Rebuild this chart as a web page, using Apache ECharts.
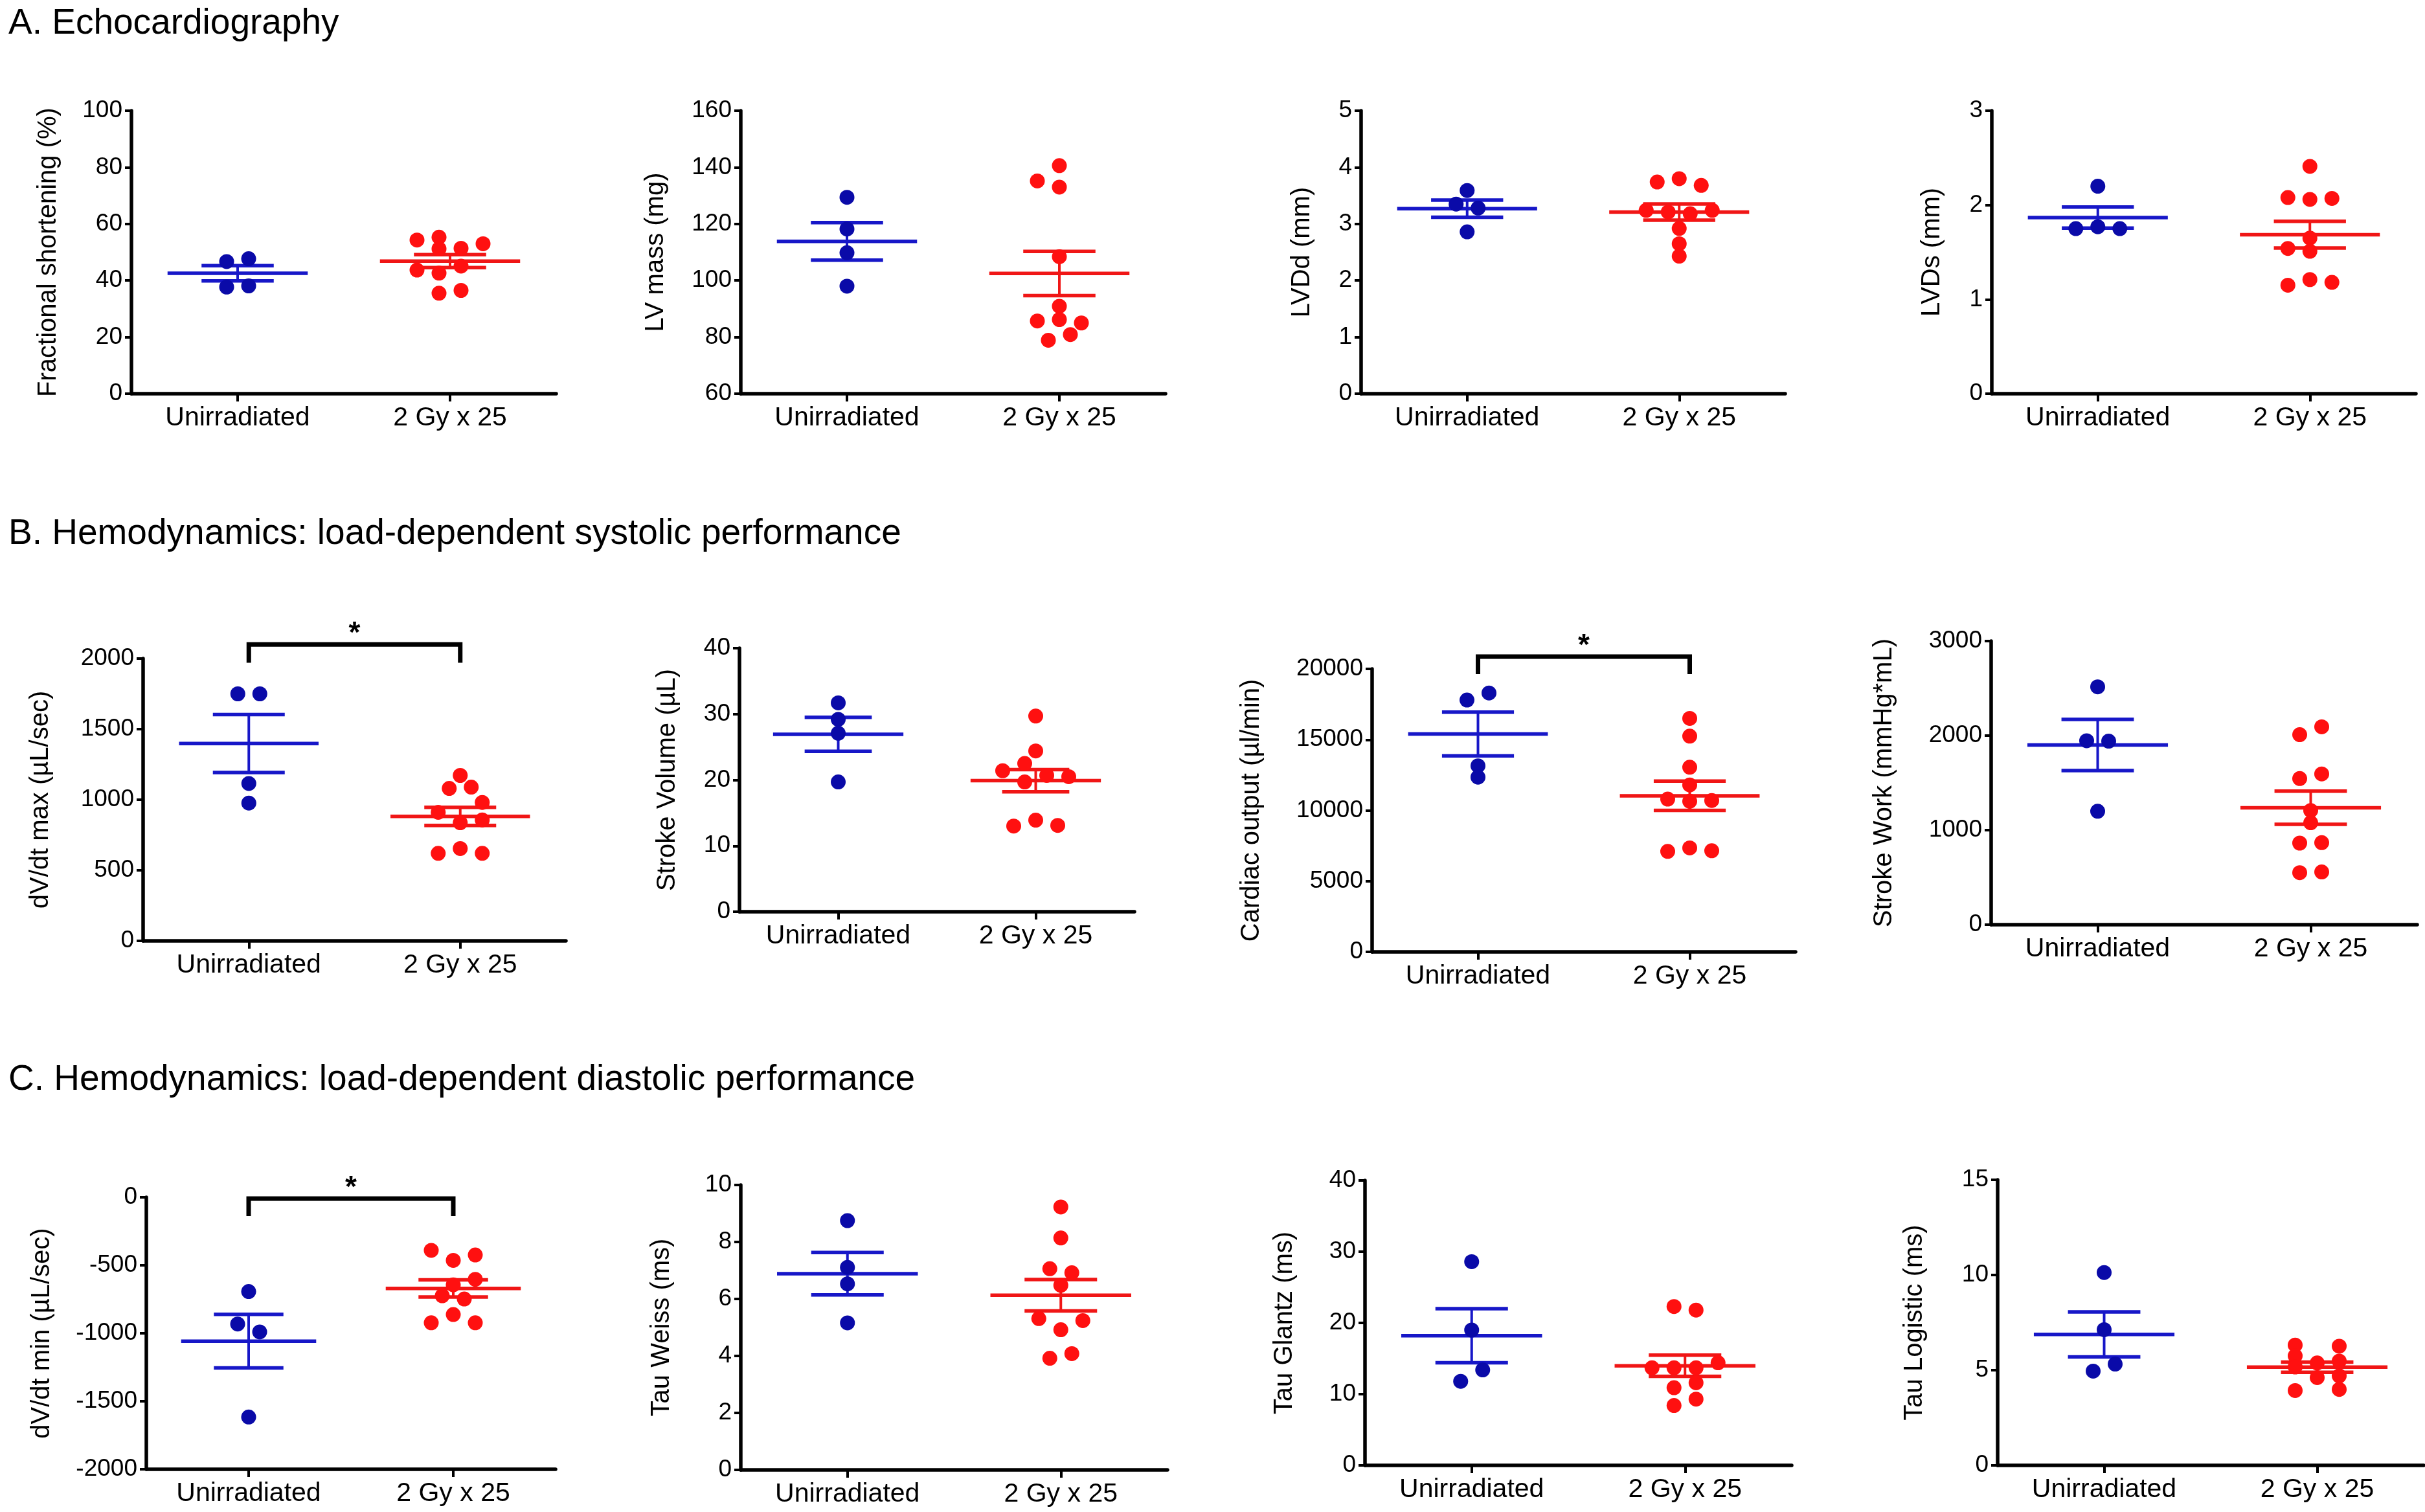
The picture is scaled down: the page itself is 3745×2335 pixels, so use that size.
<!DOCTYPE html>
<html><head><meta charset="utf-8">
<script src="https://cdn.jsdelivr.net/npm/echarts@6/dist/echarts.min.js"></script>
<style>html,body{margin:0;padding:0;background:#fff}#c{width:3745px;height:2335px}</style>
</head><body><div id="c"></div>
<script>
// ---------- categories ----------
const groups = ['Unirradiated', '2 Gy x 25'];

// ---------- A. Echocardiography ----------
const fsUnirr  = [46.7, 47.7, 37.7, 38.1];
const fsIrr    = [54.3, 55.3, 53.0, 51.2, 51.4, 43.7, 42.6, 45.1, 35.5, 36.5];
const lvmUnirr = [129.4, 118.2, 109.8, 98.0];
const lvmIrr   = [140.6, 135.2, 133.0, 108.4, 90.9, 85.7, 86.2, 85.0, 80.9, 78.9];
const lvddUnirr = [3.59, 3.35, 3.28, 2.86];
const lvddIrr   = [3.74, 3.80, 3.68, 3.24, 3.21, 3.18, 3.24, 2.92, 2.65, 2.43];
const lvdsUnirr = [2.20, 1.75, 1.77, 1.75];
const lvdsIrr   = [2.41, 2.08, 2.06, 2.07, 1.65, 1.54, 1.51, 1.15, 1.21, 1.18];

// ---------- B. systolic ----------
const dvMaxUnirr = [1750, 1750, 1115, 976];
const dvMaxIrr   = [1172, 1080, 1089, 981, 911, 837, 857, 620, 654, 620];
const svUnirr = [31.7, 29.2, 27.1, 19.7];
const svIrr   = [29.7, 24.4, 22.5, 21.4, 20.7, 20.5, 19.7, 13.9, 13.0, 13.1];
const coUnirr = [17800, 18300, 13150, 12350];
const coIrr   = [16500, 15250, 13050, 11800, 10800, 10650, 10700, 7100, 7350, 7150];
const swUnirr = [2516, 1946, 1941, 1200];
const swIrr   = [2093, 2010, 1595, 1546, 1208, 1078, 863, 868, 550, 558];

// ---------- C. diastolic ----------
const dvMinUnirr = [-693, -932, -990, -1616];
const dvMinIrr   = [-390, -464, -424, -603, -644, -724, -748, -862, -923, -923];
const twUnirr = [8.75, 7.11, 6.53, 5.16];
const twIrr   = [9.23, 8.14, 7.06, 6.92, 6.48, 5.31, 5.24, 4.92, 3.92, 4.08];
const tgUnirr = [28.6, 19.0, 13.4, 11.8];
const tgIrr   = [22.3, 21.8, 14.4, 13.7, 13.7, 13.7, 11.6, 10.9, 9.3, 8.4];
const tlUnirr = [10.13, 7.13, 5.32, 4.95];
const tlIrr   = [6.32, 6.26, 5.75, 5.38, 5.48, 5.17, 4.61, 4.70, 3.93, 3.99];

// ---------- scatter column slots (dot-width units, layout only) ----------
const fsUC = [-0.5, 0.5, -0.5, 0.5];
const fsIC = [-1.5, -0.5, 1.5, -0.5, 0.5, -1.5, -0.5, 0.5, -0.5, 0.5];
const lvmUC = [0, 0, 0, 0];
const lvmIC = [0, -1, 0, 0, 0, -1, 0, 1, 0.5, -0.5];
const lvddUC = [0, -0.5, 0.5, 0];
const lvddIC = [-1, 0, 1, -1.5, -0.5, 0.5, 1.5, 0, 0, 0];
const lvdsUC = [0, -1, 0, 1];
const lvdsIC = [0, -1, 0, 1, 0, -1, 0, -1, 0, 1];
const dvMaxUC = [-0.5, 0.5, 0, 0];
const dvMaxIC = [0, -0.5, 0.5, 1, -1, 0, 1, -1, 0, 1];
const svUC = [0, 0, 0, 0];
const svIC = [0, 0, -0.5, -1.5, 0.5, 1.5, -0.5, 0, -1, 1];
const coUC = [-0.5, 0.5, 0, 0];
const coIC = [0, 0, 0, 0, -1, 0, 1, -1, 0, 1];
const swUC = [0, -0.5, 0.5, 0];
const swIC = [0.5, -0.5, 0.5, -0.5, 0, 0, -0.5, 0.5, -0.5, 0.5];
const dvMinUC = [0, -0.5, 0.5, 0];
const dvMinIC = [-1, 0, 1, 1, 0, -0.5, 0.5, 0, -1, 1];
const twUC = [0, 0, 0, 0];
const twIC = [0, 0, -0.5, 0.5, 0, -1, 1, 0, -0.5, 0.5];
const tgUC = [0, 0, 0.5, -0.5];
const tgIC = [-0.5, 0.5, 1.5, -1.5, -0.5, 0.5, 0.5, -0.5, 0.5, -0.5];
const tlUC = [0, 0, 0.5, -0.5];
const tlIC = [-1, 1, -1, 0, 1, -1, 0, 1, -1, 1];

// ---------- significance brackets (value at bar, value at leg ends) ----------
const dvMaxSig = {top: 2100, leg: 1970};
const coSig    = {top: 20870, leg: 19630};
const dvMinSig = {top: -10, leg: -138};

// ---------- styles ----------
const FONT = 'Liberation Sans';
const BLUE_DOT = '#0a0aa8', BLUE_LINE = '#1717c8';
const RED_DOT = '#ff1010', RED_LINE = '#f01616';
const DOT = 23, COL_PX = 34, MEAN_HALF = 0.33, CAP_HALF = 0.17;

const panels = [
  {name:'Fractional shortening (%)', min:0, max:100, iv:20, u:fsUnirr, uc:fsUC, r:fsIrr, rc:fsIC, g:{left:203, top:171, width:656, height:437}, gap:108},
  {name:'LV mass (mg)', min:60, max:160, iv:20, u:lvmUnirr, uc:lvmUC, r:lvmIrr, rc:lvmIC, g:{left:1144, top:171, width:656, height:437}, gap:111},
  {name:'LVDd (mm)', min:0, max:5, iv:1, u:lvddUnirr, uc:lvddUC, r:lvddIrr, rc:lvddIC, g:{left:2102, top:171, width:655, height:437}, gap:71},
  {name:'LVDs (mm)', min:0, max:3, iv:1, u:lvdsUnirr, uc:lvdsUC, r:lvdsIrr, rc:lvdsIC, g:{left:3076, top:171, width:655, height:437}, gap:72},
  {name:'dV/dt max (µL/sec)', min:0, max:2000, iv:500, u:dvMaxUnirr, uc:dvMaxUC, r:dvMaxIrr, rc:dvMaxIC, g:{left:221, top:1017, width:653, height:436}, gap:138, sig:dvMaxSig},
  {name:'Stroke Volume (µL)', min:0, max:40, iv:10, u:svUnirr, uc:svUC, r:svIrr, rc:svIC, g:{left:1142, top:1001, width:610, height:407}, gap:91},
  {name:'Cardiac output (µl/min)', min:0, max:20000, iv:5000, u:coUnirr, uc:coUC, r:coIrr, rc:coIC, g:{left:2119, top:1033, width:654, height:437}, gap:166, sig:coSig},
  {name:'Stroke Work (mmHg*mL)', min:0, max:3000, iv:1000, u:swUnirr, uc:swUC, r:swIrr, rc:swIC, g:{left:3075, top:990, width:658, height:438}, gap:145},
  {name:'dV/dt min (µL/sec)', min:-2000, max:0, iv:500, u:dvMinUnirr, uc:dvMinUC, r:dvMinIrr, rc:dvMinIC, g:{left:226, top:1849, width:632, height:420}, gap:141, sig:dvMinSig},
  {name:'Tau Weiss (ms)', min:0, max:10, iv:2, u:twUnirr, uc:twUC, r:twIrr, rc:twIC, g:{left:1144, top:1830, width:659, height:440}, gap:102},
  {name:'Tau Glantz (ms)', min:0, max:40, iv:10, u:tgUnirr, uc:tgUC, r:tgIrr, rc:tgIC, g:{left:2108, top:1823, width:659, height:440}, gap:104},
  {name:'Tau Logistic (ms)', min:0, max:15, iv:5, u:tlUnirr, uc:tlUC, r:tlIrr, rc:tlIC, g:{left:3085, top:1822, width:658, height:441}, gap:108}
];

function mean(a){ return a.reduce((s,v)=>s+v,0)/a.length; }
function sem(a){ const m=mean(a); const v=a.reduce((s,x)=>s+(x-m)*(x-m),0)/(a.length-1); return Math.sqrt(v/a.length); }

function errSeries(idx, gi, vals, color){
  return {
    type:'custom', xAxisIndex:idx, yAxisIndex:idx, z:2, silent:true,
    data:[[gi, mean(vals), sem(vals)]],
    renderItem:(params, api)=>{
      const x=api.value(0), m=api.value(1), s=api.value(2);
      const c=(p)=>api.coord(p);
      const a=c([x-MEAN_HALF,m]), b=c([x+MEAN_HALF,m]);
      const t=c([x,m+s]), bo=c([x,m-s]);
      const t1=c([x-CAP_HALF,m+s]), t2=c([x+CAP_HALF,m+s]);
      const b1=c([x-CAP_HALF,m-s]), b2=c([x+CAP_HALF,m-s]);
      const ln=(p,q,w)=>({type:'line', shape:{x1:p[0],y1:p[1],x2:q[0],y2:q[1]}, style:{stroke:color, lineWidth:w}});
      return {type:'group', children:[ln(a,b,5.5), ln(t,bo,4), ln(t1,t2,5.5), ln(b1,b2,5.5)]};
    }
  };
}

function sigSeries(idx, sig){
  return {
    type:'custom', xAxisIndex:idx, yAxisIndex:idx, z:3, silent:true, clip:false,
    data:[[0, 1, sig.top, sig.leg]],
    renderItem:(params, api)=>{
      const x0=api.value(0), x1=api.value(1), top=api.value(2), leg=api.value(3);
      const p1=api.coord([x0,leg]), p2=api.coord([x0,top]), p3=api.coord([x1,top]), p4=api.coord([x1,leg]);
      const mid=api.coord([(x0+x1)/2, top]);
      return {type:'group', children:[
        {type:'polyline', shape:{points:[p1,p2,p3,p4]}, style:{stroke:'#000', lineWidth:7, fill:null, lineJoin:'miter'}},
        {type:'text', style:{text:'*', x:mid[0], y:mid[1]-16, fill:'#000', font:'bold 46px "'+FONT+'"', align:'center', verticalAlign:'middle'}}
      ]};
    }
  };
}

const grid=[], xAxis=[], yAxis=[], series=[];
panels.forEach((p,i)=>{
  grid.push(Object.assign({containLabel:false}, p.g));
  xAxis.push({
    type:'value', gridIndex:i, min:-0.5, max:1.5,
    splitLine:{show:false},
    axisLine:{show:true, onZero:false, lineStyle:{color:'#000', width:5.5}},
    axisTick:{show:true, customValues:[0,1], length:12, lineStyle:{color:'#000', width:4}},
    axisLabel:{show:true, customValues:[0,1], margin:17, color:'#000', fontFamily:FONT, fontSize:41,
      formatter:(v)=>groups[Math.round(v)]}
  });
  yAxis.push({
    type:'value', gridIndex:i, min:p.min, max:p.max, interval:p.iv,
    name:p.name, nameLocation:'middle', nameGap:p.gap,
    nameTextStyle:{color:'#000', fontFamily:FONT, fontSize:40},
    splitLine:{show:false},
    axisLine:{show:true, onZero:false, lineStyle:{color:'#000', width:5.5}},
    axisTick:{show:true, length:10, lineStyle:{color:'#000', width:4}},
    axisLabel:{color:'#000', fontFamily:FONT, fontSize:37, margin:14, formatter:(v)=>String(v)}
  });
  const unit = p.g.width/2;
  const mk=(vals, cols, gi)=>vals.map((v,k)=>[gi + cols[k]*COL_PX/unit, v]);
  series.push(errSeries(i, 0, p.u, BLUE_LINE));
  series.push(errSeries(i, 1, p.r, RED_LINE));
  series.push({type:'scatter', xAxisIndex:i, yAxisIndex:i, z:4, symbol:'circle', symbolSize:DOT,
    itemStyle:{color:BLUE_DOT, opacity:1}, data:mk(p.u, p.uc, 0), silent:true});
  series.push({type:'scatter', xAxisIndex:i, yAxisIndex:i, z:4, symbol:'circle', symbolSize:DOT,
    itemStyle:{color:RED_DOT, opacity:1}, data:mk(p.r, p.rc, 1), silent:true});
  if(p.sig) series.push(sigSeries(i, p.sig));
});

const titleStyle={color:'#000', fontFamily:FONT, fontSize:55, fontWeight:'normal'};
const chart = echarts.init(document.getElementById('c'), null, {renderer:'canvas'});
chart.setOption({
  backgroundColor:'#fff',
  animation:false,
  textStyle:{fontFamily:FONT},
  title:[
    {text:'A. Echocardiography', left:8, top:4, textStyle:titleStyle},
    {text:'B. Hemodynamics: load-dependent systolic performance', left:8, top:792, textStyle:titleStyle},
    {text:'C. Hemodynamics: load-dependent diastolic performance', left:8, top:1635, textStyle:titleStyle}
  ],
  grid, xAxis, yAxis, series
});
</script></body></html>
